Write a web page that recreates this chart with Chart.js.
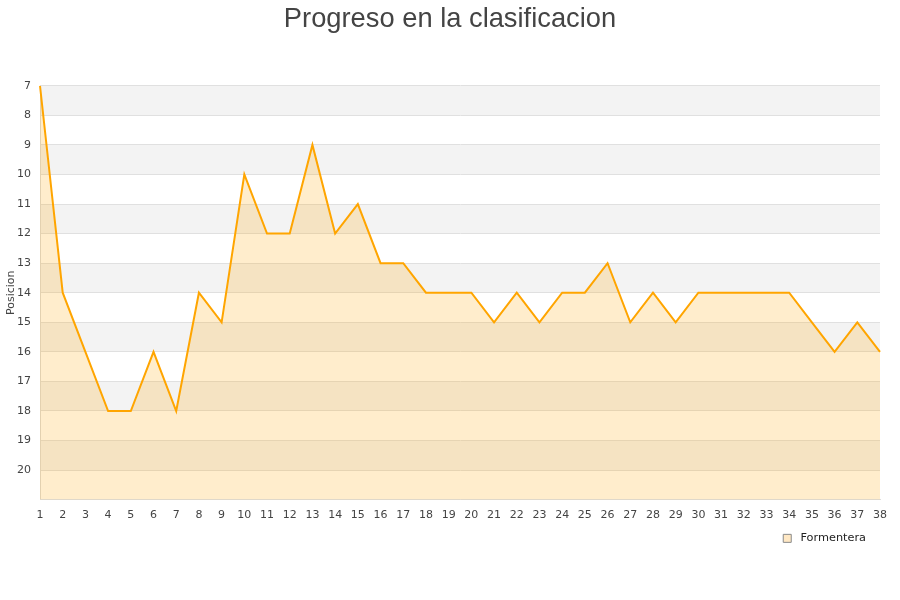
<!DOCTYPE html>
<html>
<head>
<meta charset="utf-8">
<script src="https://cdn.jsdelivr.net/npm/chart.js@4.4.0/dist/chart.umd.min.js"></script>
<style>
html,body{margin:0;padding:0;background:#fff;}
#wrap{width:900px;height:600px;}
</style>
</head>
<body>
<div id="wrap"><canvas id="c" width="900" height="600"></canvas></div>
<script>
const jornadas = ['1','2','3','4','5','6','7','8','9','10','11','12','13','14','15','16','17','18','19','20','21','22','23','24','25','26','27','28','29','30','31','32','33','34','35','36','37','38'];
const formentera = [7,14,16,18,18,16,18,14,15,10,12,12,9,12,11,13,13,14,14,14,15,14,15,14,14,13,15,14,15,14,14,14,14,14,15,16,15,16];
const yTicks = [7,8,9,10,11,12,13,14,15,16,17,18,19,20];

const bands = {
  id: 'bands',
  afterLayout(chart) {
    if (chart.titleBlock) {
      chart.titleBlock.left = 0;
      chart.titleBlock.right = chart.width;
      chart.titleBlock.width = chart.width;
    }
  },
  beforeDraw(chart) {
    const {ctx, chartArea} = chart;
    const y = chart.scales.y;
    ctx.save();
    ctx.fillStyle = '#f3f3f3';
    for (let v = 7; v < 21; v += 2) {
      const t = y.getPixelForValue(v), b = y.getPixelForValue(v + 1);
      ctx.fillRect(chartArea.left, t, chartArea.right - chartArea.left, b - t);
    }
    ctx.restore();
  }
};

new Chart(document.getElementById('c'), {
  type: 'line',
  data: {
    labels: jornadas,
    datasets: [{
      label: 'Formentera',
      data: formentera,
      borderColor: '#ffa500',
      backgroundColor: 'rgba(255,165,0,0.2)',
      borderWidth: 2,
      pointRadius: 0,
      pointHoverRadius: 0,
      tension: 0,
      fill: 'start'
    }]
  },
  options: {
    responsive: false,
    animation: false,
    layout: { padding: { left: 0, right: 20, top: 0, bottom: 46 } },
    plugins: {
      title: {
        display: true,
        text: 'Progreso en la clasificacion',
        color: '#444',
        font: { family: '"Liberation Sans", Arial, sans-serif', size: 27.3, weight: 'normal' },
        padding: { top: 3, bottom: 50 }
      },
      legend: {
        position: 'bottom',
        align: 'end',
        labels: {
          boxWidth: 8, boxHeight: 8,
          color: '#222',
          font: { family: '"DejaVu Sans", sans-serif', size: 11.3 },
          padding: 14,
          generateLabels(chart) {
            const items = Chart.defaults.plugins.legend.labels.generateLabels(chart);
            items.forEach(it => {
              it.text = ' ' + it.text;
              it.fillStyle = '#ffe8c4';
              it.strokeStyle = '#8a8a8a';
              it.lineWidth = 1;
            });
            return items;
          }
        }
      },
      tooltip: { enabled: false }
    },
    scales: {
      x: {
        offset: false,
        grid: { display: false, drawTicks: false },
        border: { color: '#ddd' },
        afterFit(scale) { scale.height = 19; },
        ticks: {
          color: '#444', padding: 9, maxRotation: 0, autoSkip: false,
          font: { family: '"DejaVu Sans", sans-serif', size: 11 }
        }
      },
      y: {
        reverse: true,
        min: 7, max: 21,
        afterBuildTicks(scale) { scale.ticks = [...yTicks, 21].map(v => ({value: v})); },
        afterFit(scale) { scale.width = 40; },
        grid: { color: '#e0e0e0', drawTicks: false },
        border: { color: '#ddd' },
        title: {
          display: true, text: 'Posicion', color: '#444', padding: 5,
          font: { family: '"DejaVu Sans", sans-serif', size: 11 }
        },
        ticks: {
          color: '#444', padding: 9,
          font: { family: '"DejaVu Sans", sans-serif', size: 11 },
          callback: v => (v === 21 ? '' : String(v))
        }
      }
    }
  },
  plugins: [bands]
});
</script>
</body>
</html>
